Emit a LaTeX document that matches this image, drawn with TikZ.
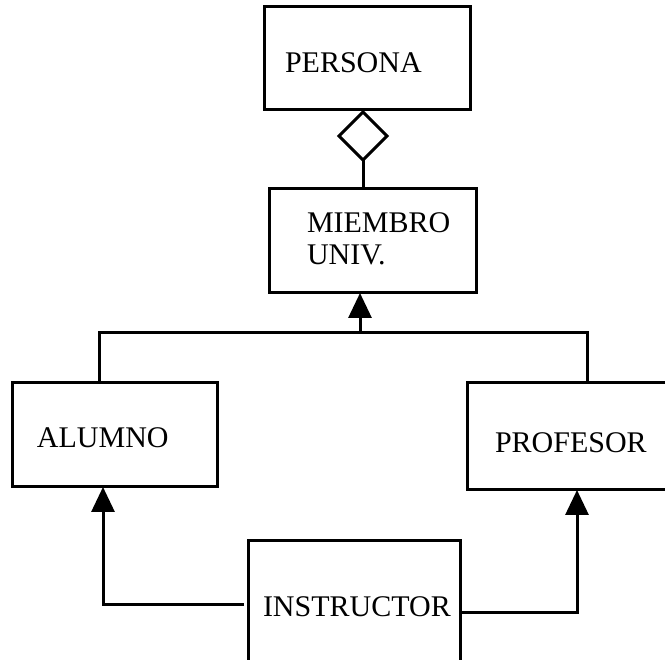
\documentclass[tikz,border=0pt]{standalone}
\usepackage{fontspec}
\setmainfont{Liberation Serif}
\usetikzlibrary{arrows.meta,shapes.geometric}

\tikzset{
  classbox/.style={draw, line width=3pt, inner sep=0pt, outer sep=0pt, anchor=north west},
  lbl/.style={inner sep=0pt, outer sep=0pt, anchor=base west, font=\fontsize{30}{36}\selectfont},
  wire/.style={line width=3pt},
  gen/.style={line width=3pt, -{Triangle[length=25pt, width=23pt]}},
  aggr/.style={draw, shape=diamond, line width=3pt, inner sep=0pt, outer sep=0pt,
               minimum width=48pt, minimum height=48pt, fill=white}
}

\begin{document}
\begin{tikzpicture}[x=1pt, y=-1pt]
  \useasboundingbox (0,0) rectangle (665,660);
  \clip (0,0) rectangle (665,660);

  % classes
  \node[classbox, minimum width=206pt, minimum height=103pt] (persona) at (264,7) {};
  \node[classbox, minimum width=207pt, minimum height=104pt] (miembro) at (269,189) {};
  \node[classbox, minimum width=205pt, minimum height=104pt] (alumno) at (12,383) {};
  \node[classbox, minimum width=240pt, minimum height=107pt] (profesor) at (467,383) {};
  \node[classbox, minimum width=212pt, minimum height=160pt] (instructor) at (248,541) {};

  % class names
  \node[lbl] (personaT) at (285,73) {PERSONA};
  \node[lbl] (miembroT1) at (307,233) {MIEMBRO};
  \node[lbl] (miembroT2) at (307,265) {UNIV.};
  \node[lbl] (alumnoT) at (37,448) {ALUMNO};
  \node[lbl] (profesorT) at (495,453) {PROFESOR};
  \node[lbl] (instructorT) at (263,617) {INSTRUCTOR};

  % aggregation PERSONA <>-- MIEMBRO UNIV.
  \node[aggr] (dia) at (363,136) {};
  \draw[wire] (dia.south) -- (dia.south |- miembro.north);

  % generalisation bus below MIEMBRO UNIV.
  \coordinate (busL) at (99,333);
  \coordinate (busM) at (360,333);
  \coordinate (busR) at (587,333);
  \draw[wire] (alumno.north -| busL) -- (busL) -- (busR) -- (profesor.north -| busR);
  \draw[gen] (busM) -- (busM |- miembro.south);

  % INSTRUCTOR inherits from ALUMNO and PROFESOR
  \coordinate (instL) at (244,605);
  \coordinate (alumUp) at (103,605);
  \coordinate (instR) at (460,613);
  \coordinate (profUp) at (577,613);
  \draw[gen] (instL) -- (alumUp) -- (alumUp |- alumno.south);
  \draw[gen] (instR) -- (profUp) -- (profUp |- profesor.south);
\end{tikzpicture}
\end{document}
